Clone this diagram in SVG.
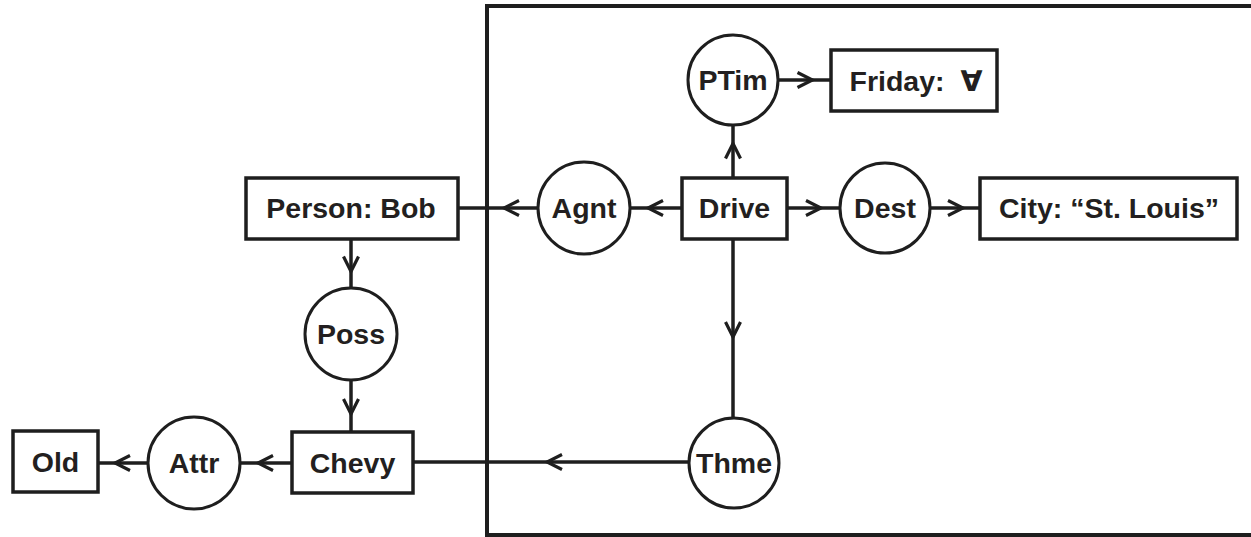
<svg xmlns="http://www.w3.org/2000/svg" width="1251" height="537" viewBox="0 0 1251 537">
<style>
  .box { fill: #fff; stroke: #1e1e1e; stroke-width: 3.5; }
  .rel { fill: #fff; stroke: #1e1e1e; stroke-width: 3; }
  .ctx { fill: none; stroke: #1e1e1e; stroke-width: 4; }
  .lbl { font-family: "Liberation Sans", Arial, "DejaVu Sans", sans-serif; font-weight: bold; font-size: 28.5px; fill: #231f20; text-anchor: middle; }
  .edge { fill: none; stroke: #1e1e1e; stroke-width: 3.5; marker-mid: url(#arr); }
</style>
<defs>
  <marker id="arr" viewBox="-10 -10 20 20" markerWidth="20" markerHeight="20" refX="0" refY="0" orient="auto" markerUnits="userSpaceOnUse">
    <path d="M-7,-7.5 L8,0 L-7,7.5" fill="none" stroke="#1e1e1e" stroke-width="3.2" stroke-linejoin="miter"/>
  </marker>
</defs>
<rect width="1251" height="537" fill="#fff"/>
<g id="context">
  <rect class="ctx" x="487" y="6" width="800" height="529"/>
</g>
<g id="connectors">
  <path class="edge" d="M733,178 L733,151.5 L733,125"/>
  <path class="edge" d="M778,80 L804.5,80 L831,80"/>
  <path class="edge" d="M682,208 L656,208 L630,208"/>
  <path class="edge" d="M538,208 L512,208 L458,208"/>
  <path class="edge" d="M787,208 L813,208 L840,208"/>
  <path class="edge" d="M930,208 L955,208 L980,208"/>
  <path class="edge" d="M733,240 L733,329 L733,418"/>
  <path class="edge" d="M688,462 L555,462 L413,462"/>
  <path class="edge" d="M351,239 L351,263.5 L351,288"/>
  <path class="edge" d="M351,380 L351,406 L351,432"/>
  <path class="edge" d="M292,463 L266,463 L240,463"/>
  <path class="edge" d="M148,463 L123,463 L98,463"/>
</g>
<g id="ptim">
  <circle class="rel" cx="733" cy="80" r="45"/>
  <text class="lbl" x="733" y="90">PTim</text>
</g>
<g id="friday">
  <rect class="box" x="831" y="50" width="166" height="61"/>
  <text class="lbl" x="916" y="91" xml:space="preserve">Friday:  ∀</text>
</g>
<g id="drive">
  <rect class="box" x="682" y="178" width="105" height="61"/>
  <text class="lbl" x="734.5" y="218">Drive</text>
</g>
<g id="agnt">
  <circle class="rel" cx="584" cy="208" r="46"/>
  <text class="lbl" x="584" y="218">Agnt</text>
</g>
<g id="dest">
  <circle class="rel" cx="885" cy="208" r="45"/>
  <text class="lbl" x="885" y="218">Dest</text>
</g>
<g id="city">
  <rect class="box" x="980" y="178" width="257" height="61"/>
  <text class="lbl" x="1109" y="218">City: “St. Louis”</text>
</g>
<g id="person-bob">
  <rect class="box" x="246" y="178" width="212" height="61"/>
  <text class="lbl" x="351" y="218">Person: Bob</text>
</g>
<g id="poss">
  <circle class="rel" cx="351" cy="334" r="46"/>
  <text class="lbl" x="351" y="344">Poss</text>
</g>
<g id="chevy">
  <rect class="box" x="292" y="432" width="121" height="61"/>
  <text class="lbl" x="352.5" y="473">Chevy</text>
</g>
<g id="attr">
  <circle class="rel" cx="194" cy="463" r="46"/>
  <text class="lbl" x="194" y="473">Attr</text>
</g>
<g id="old">
  <rect class="box" x="13" y="431" width="85" height="61"/>
  <text class="lbl" x="55.5" y="472">Old</text>
</g>
<g id="thme">
  <circle class="rel" cx="734" cy="463" r="45"/>
  <text class="lbl" x="734" y="473">Thme</text>
</g>
</svg>
